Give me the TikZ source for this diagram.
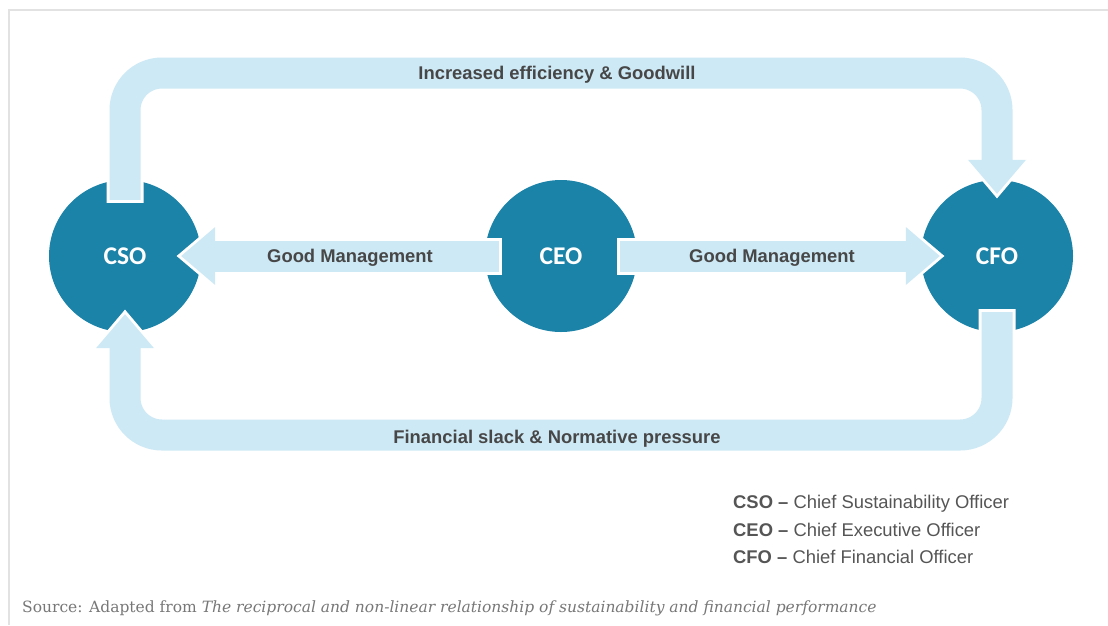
\documentclass[tikz,border=0pt]{standalone}
\usepackage{fontspec}
\setmainfont{Liberation Sans}
\newfontfamily\badgefont{Carlito}
\newfontfamily\sourcefont{DejaVu Serif}
\usetikzlibrary{arrows.meta,calc,positioning}

\definecolor{officerblue}{HTML}{1B82A8}
\definecolor{flowblue}{HTML}{CDE9F5}
\definecolor{labelgray}{HTML}{474747}
\definecolor{legendgray}{HTML}{555555}
\definecolor{sourcegray}{HTML}{777777}
\definecolor{framegray}{HTML}{E2E2E2}

\tikzset{
  officer/.style={circle, fill=officerblue, minimum size=152pt, inner sep=0pt,
    text=white, font=\badgefont\bfseries\fontsize{25.5}{28}\selectfont},
  flow/.style={draw=flowblue, line width=31pt, rounded corners=37pt,
    -{Triangle[width=58pt,length=34pt,line width=0pt]},
    preaction={draw=white, line width=37pt,
      -{Triangle[width=71pt,length=42pt,line width=0pt]},
      shorten >=-4.6pt, shorten <=-3pt}},
  flowlabel/.style={font=\bfseries\fontsize{18.4}{20}\selectfont, text=labelgray},
  legend/.style={anchor=west, inner sep=0pt, font=\fontsize{18.4}{20}\selectfont, text=legendgray},
}

\begin{document}
\begin{tikzpicture}[x=1pt,y=-1pt]
\useasboundingbox (0,0) rectangle (1108,625);
\draw[framegray, line width=2pt] (9,625) -- (9,10) -- (1108,10);

% the three officers
\node[officer] (cso) at (125,256) {CSO};
\node[officer] (ceo) at (561,256) {CEO};
\node[officer] (cfo) at (997,256) {CFO};

\coordinate (topband) at (561,73);
\coordinate (bottomband) at (561,435);

% loops
\draw[flow] ($(cso.north)+(0,20)$) -- (cso |- topband) -- (cfo |- topband) -- ($(cfo.north)+(0,14)$);
\draw[flow] ($(cfo.south)+(0,-20)$) -- (cfo |- bottomband) -- (cso |- bottomband) -- ($(cso.south)+(0,-18)$);

% management arrows
\draw[flow] ($(ceo.west)+(14,0)$) -- ($(cso.east)+(-20,0)$);
\draw[flow] ($(ceo.east)+(-17,0)$) -- ($(cfo.west)+(19,0)$);

\node[flowlabel] (goodwill) at (557,74.5) {Increased efficiency \& Goodwill};
\node[flowlabel] (slack) at (557,438.5) {Financial slack \& Normative pressure};
\node[flowlabel] (mgleft) at (350,258) {Good Management};
\node[flowlabel] (mgright) at (772,258) {Good Management};

% legend
\node[legend] (lcso) at (733,504) {\textbf{CSO --} Chief Sustainability Officer};
\node[legend] (lceo) at (733,530) {\textbf{CEO --} Chief Executive Officer};
\node[legend] (lcfo) at (733,557) {\textbf{CFO --} Chief Financial Officer};

\node[anchor=west, inner sep=0pt, text=sourcegray, font=\sourcefont\fontsize{15.5}{17}\selectfont] (source) at (22,608)
  {Source: Adapted from \textit{The reciprocal and non-linear relationship of sustainability and financial performance}};
\end{tikzpicture}
\end{document}
